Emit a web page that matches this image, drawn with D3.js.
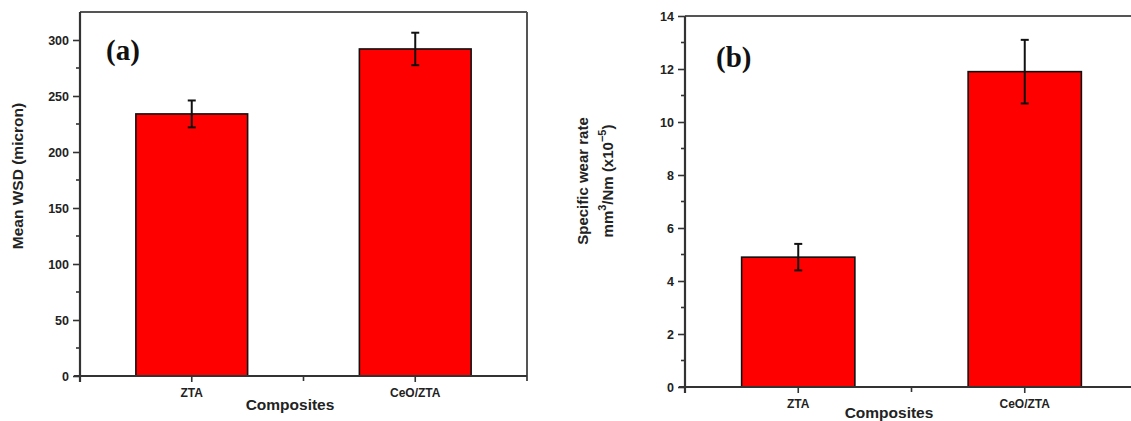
<!DOCTYPE html>
<html>
<head>
<meta charset="utf-8">
<script src="https://cdn.jsdelivr.net/npm/d3@7"></script>
<style>
  html, body { margin: 0; background: #fff; overflow: hidden; }
  svg { display: block; overflow: hidden; }
  text { font-family: "Liberation Sans", Arial, sans-serif; font-weight: bold; fill: #222; }
</style>
</head>
<body>
<div id="chart"></div>
<script>
// categories and values
const categories = ["ZTA", "CeO/ZTA"];
const wsdMean = [234, 292];      // micron
const wsdErr = [12, 14.5];
const wearRate = [4.9, 11.9];    // x10^-5 mm3/Nm
const wearErr = [0.5, 1.2];

const wsdTicks = [0, 50, 100, 150, 200, 250, 300];
const wearTicks = [0, 2, 4, 6, 8, 10, 12, 14];

const W = 1131, H = 421;

const svg = d3.select("#chart").append("svg")
    .attr("width", W)
    .attr("height", H);

function drawPanel(opts) {
    const g = svg.append("g");
    const { left, right, top, bottom } = opts;

    const x = d3.scaleBand()
        .domain(categories)
        .range([left, right])
        .paddingInner(0.5)
        .paddingOuter(0.25);

    const y = d3.scaleLinear()
        .domain(opts.domain)
        .range([bottom, top]);

    // frame (top and right)
    g.append("line")
        .attr("x1", left).attr("x2", right)
        .attr("y1", top).attr("y2", top)
        .attr("stroke", "#555").attr("stroke-width", 2);
    if (right < W) {
        g.append("line")
            .attr("x1", right).attr("x2", right)
            .attr("y1", top).attr("y2", bottom + 5)
            .attr("stroke", "#555").attr("stroke-width", 2);
    }

    // bars
    const vals = opts.values;
    g.selectAll(".bar")
        .data(categories)
        .enter()
        .append("rect")
        .attr("class", "bar")
        .attr("x", d => x(d))
        .attr("width", x.bandwidth())
        .attr("y", (d, i) => y(vals[i]))
        .attr("height", (d, i) => y(0) - y(vals[i]))
        .attr("fill", "#ff0000")
        .attr("stroke", "#111")
        .attr("stroke-width", 1.6);

    // error bars
    const errs = opts.errors;
    const eb = g.selectAll(".err")
        .data(categories)
        .enter()
        .append("g")
        .attr("class", "err")
        .attr("stroke", "#111")
        .attr("stroke-width", 2);
    eb.append("line")
        .attr("x1", d => x(d) + x.bandwidth() / 2)
        .attr("x2", d => x(d) + x.bandwidth() / 2)
        .attr("y1", (d, i) => y(vals[i] + errs[i]))
        .attr("y2", (d, i) => y(vals[i] - errs[i]));
    [1, -1].forEach(s => {
        eb.append("line")
            .attr("x1", d => x(d) + x.bandwidth() / 2 - 4)
            .attr("x2", d => x(d) + x.bandwidth() / 2 + 4)
            .attr("y1", (d, i) => y(vals[i] + s * errs[i]))
            .attr("y2", (d, i) => y(vals[i] + s * errs[i]));
    });

    // y axis
    const yAxis = d3.axisLeft(y)
        .tickValues(opts.ticks)
        .tickSize(7)
        .tickPadding(4)
        .tickFormat(d3.format("d"));
    const ya = g.append("g")
        .attr("transform", `translate(${left},0)`)
        .call(yAxis);
    ya.select(".domain").remove();
    ya.selectAll("line").attr("stroke", "#333").attr("stroke-width", 1.6);
    ya.selectAll("text").style("font-size", "12.5px");

    // minor y ticks
    const minor = opts.ticks.slice(0, -1).map((t, i) => (t + opts.ticks[i + 1]) / 2);
    g.selectAll(".ymin")
        .data(minor)
        .enter()
        .append("line")
        .attr("x1", left - 4).attr("x2", left)
        .attr("y1", d => y(d)).attr("y2", d => y(d))
        .attr("stroke", "#333").attr("stroke-width", 1.6);

    // x axis
    const xAxis = d3.axisBottom(x)
        .tickSize(6)
        .tickPadding(6);
    const xa = g.append("g")
        .attr("transform", `translate(0,${bottom})`)
        .call(xAxis);
    xa.select(".domain").remove();
    xa.selectAll("line").attr("stroke", "#333").attr("stroke-width", 1.6);
    xa.selectAll("text").style("font-size", "12px");

    g.append("line")
        .attr("x1", (x(categories[0]) + x(categories[1]) + x.bandwidth()) / 2)
        .attr("x2", (x(categories[0]) + x(categories[1]) + x.bandwidth()) / 2)
        .attr("y1", bottom).attr("y2", bottom + 5)
        .attr("stroke", "#333").attr("stroke-width", 1.6);

    // axis lines
    g.append("line")
        .attr("x1", left - 6).attr("x2", right)
        .attr("y1", bottom).attr("y2", bottom)
        .attr("stroke", "#333").attr("stroke-width", 2.2);
    g.append("line")
        .attr("x1", left).attr("x2", left)
        .attr("y1", top).attr("y2", bottom + 6)
        .attr("stroke", "#333").attr("stroke-width", 2.2);

    // x title
    g.append("text")
        .attr("x", opts.xTitleX)
        .attr("y", opts.xTitleY)
        .attr("text-anchor", "middle")
        .style("font-size", "15.5px")
        .text("Composites");

    // panel letter
    g.append("text")
        .attr("x", opts.letterX)
        .attr("y", opts.letterY)
        .style("font-family", "'Liberation Serif', 'Times New Roman', serif")
        .style("font-size", "29px")
        .style("fill", "#111")
        .text(opts.letter);

    return g;
}

const ga = drawPanel({
    left: 80, right: 527, top: 12, bottom: 376,
    domain: [0, 325], ticks: wsdTicks,
    values: wsdMean, errors: wsdErr,
    xTitleX: 290, xTitleY: 410,
    letter: "(a)", letterX: 106, letterY: 60
});

ga.append("text")
    .attr("transform", "translate(23,176) rotate(-90)")
    .attr("text-anchor", "middle")
    .style("font-size", "15.5px")
    .text("Mean WSD (micron)");

const gb = drawPanel({
    left: 685, right: 1138, top: 16, bottom: 387,
    domain: [0, 14], ticks: wearTicks,
    values: wearRate, errors: wearErr,
    xTitleX: 889, xTitleY: 418,
    letter: "(b)", letterX: 716, letterY: 67
});

gb.append("text")
    .attr("transform", "translate(588,181) rotate(-90)")
    .attr("text-anchor", "middle")
    .style("font-size", "15px")
    .text("Specific wear rate");

const yl2 = gb.append("text")
    .attr("transform", "translate(613,181) rotate(-90)")
    .attr("text-anchor", "middle")
    .style("font-size", "15px");
yl2.append("tspan").text("mm");
yl2.append("tspan").attr("dy", -7).style("font-size", "11px").text("3");
yl2.append("tspan").attr("dy", 7).text("/Nm (x10");
yl2.append("tspan").attr("dy", -7).style("font-size", "11px").text("−5");
yl2.append("tspan").attr("dy", 7).text(")");
</script>
</body>
</html>
